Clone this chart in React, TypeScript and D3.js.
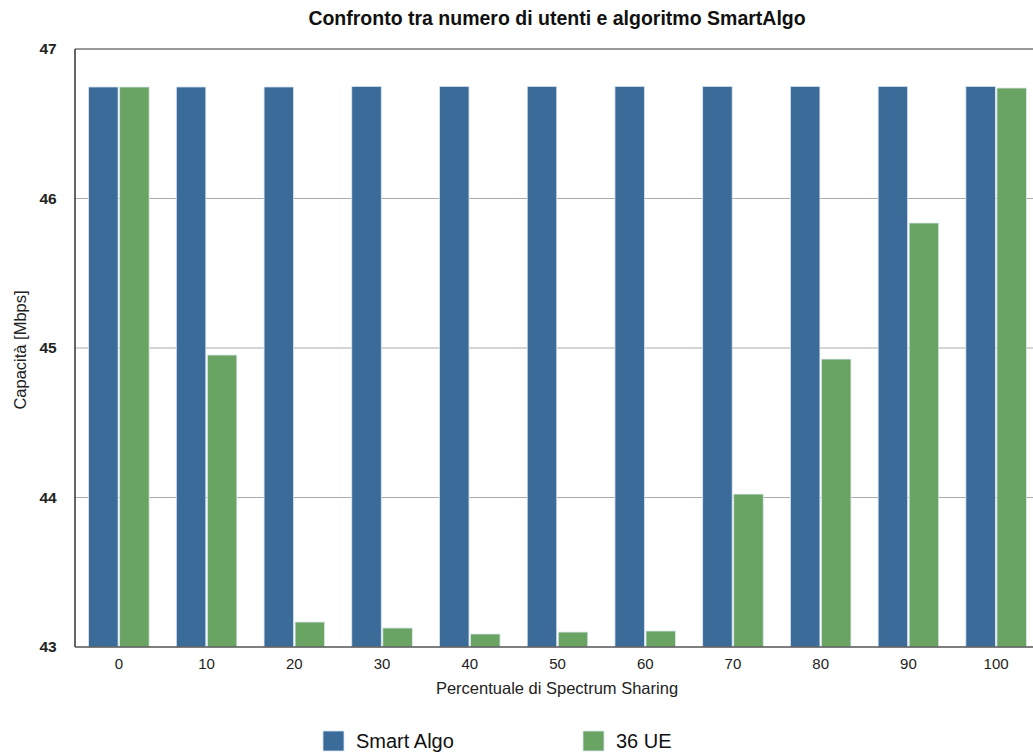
import React from "react";
import * as d3 from "d3";

const categories = ["0", "10", "20", "30", "40", "50", "60", "70", "80", "90", "100"];
const smartAlgo = [46.746, 46.746, 46.746, 46.75, 46.75, 46.75, 46.75, 46.75, 46.75, 46.75, 46.75];
const ue36 = [46.746, 44.953, 43.167, 43.127, 43.087, 43.1, 43.107, 44.023, 44.926, 45.836, 46.739];
const seriesNames = ["Smart Algo", "36 UE"];
const seriesColors = ["#3a6b99", "#6aa463"];
const yTicks = [43, 44, 45, 46, 47];

export default function App() {
  const W = 1033, H = 754;
  const left = 75, right = 1040, top = 49, bottom = 647;
  const x = d3.scaleBand<string>().domain(categories).range([left, right]).paddingInner(0.31).paddingOuter(0.155);
  const sub = d3.scaleBand<string>().domain(seriesNames).range([0, x.bandwidth()]).paddingInner(0.05);
  const y = d3.scaleLinear().domain([43, 47]).range([bottom, top]);
  const series = [smartAlgo, ue36];
  const font = "'Liberation Sans', Arial, Helvetica, sans-serif";
  return (
    <svg width={W} height={H} style={{ position: "absolute", left: 0, top: 0, fontFamily: font }}>
      <rect width={W} height={H} fill="#fff" />
      <text x={557} y={25} textAnchor="middle" fontSize={19.5} fontWeight="bold" fill="#111">
        Confronto tra numero di utenti e algoritmo SmartAlgo
      </text>
      {yTicks.map((t) => (
        <g key={t}>
          {t > 43 && <line x1={left} x2={W} y1={y(t)} y2={y(t)} stroke={t === 47 ? "#333" : "#aaa"} strokeWidth={1} />}
          <text x={48} y={y(t) + 5} textAnchor="middle" fontSize={15.5} fontWeight="bold" fill="#222">{t}</text>
        </g>
      ))}
      {categories.map((c, i) => (
        <g key={c}>
          {series.map((s, j) => (
            <rect
              key={j}
              x={(x(c) as number) + (sub(seriesNames[j]) as number)}
              y={y(s[i])}
              width={sub.bandwidth()}
              height={bottom - y(s[i])}
              fill={seriesColors[j]}
              stroke="#dbe6f0"
              strokeWidth={0.8}
            />
          ))}
          <text x={(x(c) as number) + x.bandwidth() / 2} y={669} textAnchor="middle" fontSize={15} fill="#222">{c}</text>
        </g>
      ))}
      <line x1={left} x2={left} y1={top} y2={bottom} stroke="#333" strokeWidth={1.5} />
      <line x1={left} x2={W} y1={bottom} y2={bottom} stroke="#555" strokeWidth={1.5} />
      <text x={557} y={694} textAnchor="middle" fontSize={16.5} fill="#222">Percentuale di Spectrum Sharing</text>
      <text transform={`translate(26,350) rotate(-90)`} textAnchor="middle" fontSize={16.5} fill="#222">Capacità [Mbps]</text>
      {seriesNames.map((n, j) => (
        <g key={n} transform={`translate(${j === 0 ? 323 : 583},731)`}>
          <rect width={21} height={20} fill={seriesColors[j]} stroke="#dbe6f0" strokeWidth={0.8} />
          <text x={33} y={17} fontSize={20} fill="#111">{n}</text>
        </g>
      ))}
    </svg>
  );
}
